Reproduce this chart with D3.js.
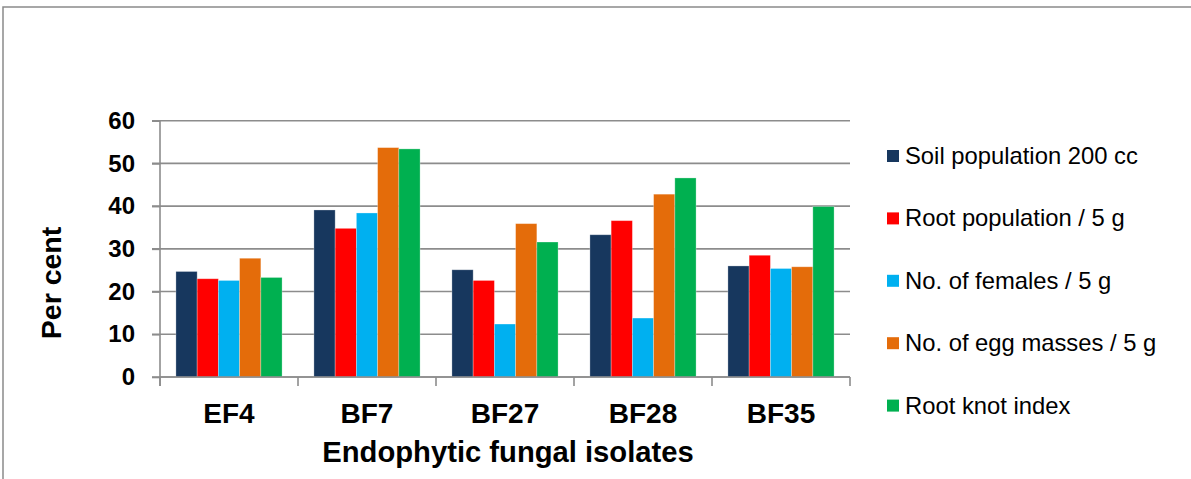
<!DOCTYPE html>
<html>
<head>
<meta charset="utf-8">
<script src="https://cdn.jsdelivr.net/npm/d3@7"></script>
<style>
  html, body { margin: 0; padding: 0; background: #fff; }
  svg { display: block; font-family: "Liberation Sans", Arial, sans-serif; }
</style>
</head>
<body>
<svg id="chart" width="1191" height="479"></svg>
<script>
// Isolates on the x axis
const categories = ["EF4", "BF7", "BF27", "BF28", "BF35"];

// Series names (legend order)
const seriesNames = [
  "Soil population 200 cc",
  "Root population / 5 g",
  "No. of females / 5 g",
  "No. of egg masses / 5 g",
  "Root knot index"
];

// Per cent values, one array per series, in category order
const soilPopulation = [24.7, 39.1, 25.1, 33.3, 26.0];
const rootPopulation = [23.0, 34.8, 22.6, 36.6, 28.5];
const females        = [22.6, 38.4, 12.4, 13.8, 25.4];
const eggMasses      = [27.8, 53.7, 35.9, 42.8, 25.8];
const rootKnotIndex  = [23.3, 53.4, 31.6, 46.6, 39.9];

const yTicks = [0, 10, 20, 30, 40, 50, 60];

const seriesValues = [soilPopulation, rootPopulation, females, eggMasses, rootKnotIndex];
const colors = ["#17375E", "#FF0000", "#00B0F0", "#E46C0A", "#00B050"];

const svg = d3.select("#chart");

// Outer chart frame (top and left edges)
svg.append("path")
  .attr("d", "M3,479V7H1191")
  .attr("fill", "none")
  .attr("stroke", "#8a8a8a")
  .attr("stroke-width", 1.5);

const plot = { left: 160, right: 850, top: 120.7, bottom: 377 };

const y = d3.scaleLinear().domain([0, 60]).range([plot.bottom, plot.top]);

// Gap between groups is 1.5 bar widths
const gapRatio = 1.5 / 6.5;
const x0 = d3.scaleBand().domain(categories)
  .range([plot.left, plot.right])
  .paddingInner(gapRatio)
  .paddingOuter(gapRatio / 2);
const x1 = d3.scaleBand().domain(d3.range(seriesNames.length))
  .range([0, x0.bandwidth()]);

// Horizontal gridlines
svg.append("g")
  .selectAll("line")
  .data(yTicks)
  .join("line")
  .attr("x1", plot.left - 8)
  .attr("x2", plot.right)
  .attr("y1", d => y(d))
  .attr("y2", d => y(d))
  .attr("stroke", "#8c8c8c")
  .attr("stroke-width", 1.6);

// Bars
const rows = categories.map((c, i) => ({
  cat: c,
  vals: seriesValues.map((s, k) => ({ k, v: s[i] }))
}));

svg.append("g")
  .selectAll("g")
  .data(rows)
  .join("g")
  .attr("transform", d => `translate(${x0(d.cat)},0)`)
  .selectAll("rect")
  .data(d => d.vals)
  .join("rect")
  .attr("x", d => x1(d.k))
  .attr("width", x1.bandwidth())
  .attr("y", d => y(d.v))
  .attr("height", d => y(0) - y(d.v))
  .attr("fill", d => colors[d.k])
  .attr("stroke", "rgba(255,255,255,0.35)")
  .attr("stroke-width", 0.8);

// Y axis
const yAxis = svg.append("g")
  .attr("transform", `translate(${plot.left},0)`)
  .call(d3.axisLeft(y).tickValues(yTicks).tickSize(8).tickPadding(17));
yAxis.select(".domain")
  .attr("d", `M0,${plot.top}V${plot.bottom + 9}`)
  .attr("stroke", "#8c8c8c").attr("stroke-width", 1.6);
yAxis.selectAll(".tick line").attr("stroke", "#8c8c8c").attr("stroke-width", 1.6);
yAxis.selectAll(".tick text")
  .attr("font-family", "Liberation Sans, Arial, sans-serif")
  .attr("font-size", 24).attr("font-weight", "bold").attr("fill", "#000");

// X axis: category labels and boundary ticks
const xAxis = svg.append("g")
  .attr("transform", `translate(0,${plot.bottom})`)
  .call(d3.axisBottom(x0).tickSize(0).tickPadding(26));
xAxis.select(".domain").remove();
xAxis.selectAll(".tick text")
  .attr("font-family", "Liberation Sans, Arial, sans-serif")
  .attr("font-size", 28).attr("font-weight", "bold").attr("fill", "#000");

svg.append("line")
  .attr("x1", plot.left).attr("x2", plot.right)
  .attr("y1", plot.bottom).attr("y2", plot.bottom)
  .attr("stroke", "#8c8c8c").attr("stroke-width", 1.6);

const boundaries = d3.range(categories.length + 1).map(i => plot.left + i * x0.step());
svg.append("g")
  .selectAll("line")
  .data(boundaries)
  .join("line")
  .attr("x1", d => d).attr("x2", d => d)
  .attr("y1", plot.bottom).attr("y2", plot.bottom + 9)
  .attr("stroke", "#8c8c8c").attr("stroke-width", 1.6);

// Axis titles
svg.append("text")
  .attr("transform", `translate(61,283) rotate(-90)`)
  .attr("text-anchor", "middle")
  .attr("font-size", 28.5).attr("font-weight", "bold")
  .text("Per cent");

svg.append("text")
  .attr("x", (plot.left + plot.right) / 2 + 3)
  .attr("y", 462)
  .attr("text-anchor", "middle")
  .attr("font-size", 29.2).attr("font-weight", "bold")
  .text("Endophytic fungal isolates");

// Legend
const legend = svg.append("g")
  .selectAll("g")
  .data(seriesNames)
  .join("g")
  .attr("transform", (d, i) => `translate(887,${156 + i * 62.4})`);
legend.append("rect")
  .attr("x", 0).attr("y", -6)
  .attr("width", 12).attr("height", 12)
  .attr("fill", (d, i) => colors[i]);
legend.append("text")
  .attr("x", 18).attr("y", 8)
  .attr("font-size", 23.8)
  .attr("fill", "#000")
  .text(d => d);
</script>
</body>
</html>
